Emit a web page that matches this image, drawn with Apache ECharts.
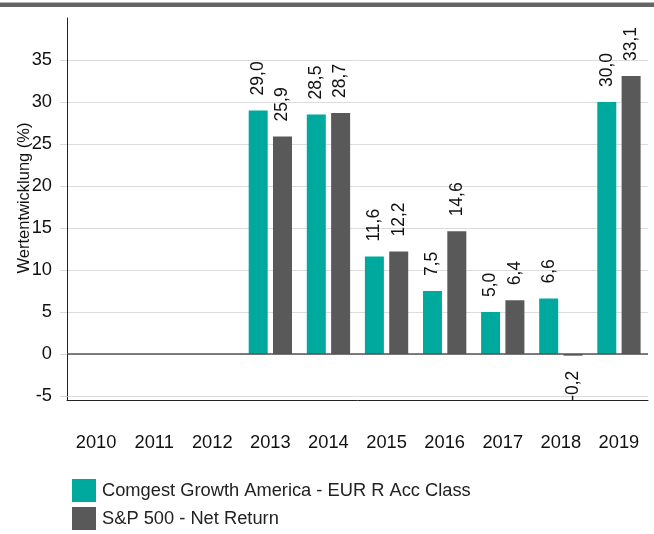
<!DOCTYPE html>
<html>
<head>
<meta charset="utf-8">
<script src="https://cdn.jsdelivr.net/npm/echarts@6/dist/echarts.min.js"></script>
<style>
  html, body { margin: 0; padding: 0; background: #fff; }
  #chart { width: 654px; height: 534px; }
</style>
</head>
<body>
<div id="chart"></div>
<script>
// years on the x axis
const years = ['2010', '2011', '2012', '2013', '2014', '2015', '2016', '2017', '2018', '2019'];
// yearly performance in %
const fundValues = [null, null, null, 29.0, 28.5, 11.6, 7.5, 5.0, 6.6, 30.0];
const indexValues = [null, null, null, 25.9, 28.7, 12.2, 14.6, 6.4, -0.2, 33.1];
const seriesNames = ['Comgest Growth America - EUR R Acc Class', 'S&P 500 - Net Return'];
const yAxisName = 'Wertentwicklung (%)';

const myChart = echarts.init(document.getElementById('chart'));

let fmt = function (p) {
  return p.value.toFixed(1).replace('.', ',');
};

// labels sit above positive bars, below negative ones
let toData = function (arr) {
  return arr.map(function (v) {
    if (v !== null && v < 0) {
      return { value: v, label: { position: 'bottom', align: 'right' } };
    }
    return v;
  });
};

let barLabel = {
  show: true,
  position: 'top',
  rotate: 90,
  align: 'left',
  verticalAlign: 'middle',
  distance: 15,
  fontSize: 17.5,
  color: '#111',
  fontFamily: 'Liberation Sans, Arial, sans-serif',
  formatter: fmt
};

let legendBase = {
  left: 72,
  padding: 0,
  itemWidth: 24,
  itemHeight: 23,
  icon: 'rect',
  textStyle: { fontSize: 18.3, color: '#222', padding: [0, 0, 0, 1] }
};

let option = {
  animation: false,
  textStyle: { fontFamily: 'Liberation Sans, Arial, sans-serif' },
  graphic: [
    { type: 'rect', left: 0, top: 2, shape: { width: 654, height: 1 }, style: { fill: '#b5b5b5' } },
    { type: 'rect', left: 0, top: 3, shape: { width: 654, height: 4 }, style: { fill: '#656565' } },
    // y axis line continues down to the offset x axis
    { type: 'rect', left: 67, top: 396, shape: { width: 1, height: 4 }, style: { fill: '#222' } }
  ],
  grid: { left: 67, right: 6, top: 18, bottom: 138, containLabel: false, outerBoundsMode: 'none' },
  legend: [
    Object.assign({ top: 479, data: [seriesNames[0]] }, legendBase),
    Object.assign({ top: 507, data: [seriesNames[1]] }, legendBase)
  ],
  xAxis: {
    type: 'category',
    data: years,
    position: 'bottom',
    offset: 4,
    axisLine: { onZero: false, lineStyle: { color: '#222', width: 1 } },
    axisTick: { alignWithLabel: true, length: 6, lineStyle: { color: '#222' } },
    axisLabel: { margin: 34, fontSize: 18.3, color: '#111' }
  },
  yAxis: {
    type: 'value',
    min: -5,
    max: 40,
    interval: 5,
    name: yAxisName,
    nameLocation: 'middle',
    nameGap: 34,
    nameMoveOverlap: false,
    nameTextStyle: { fontSize: 16.5, color: '#111', padding: [0, 0, 0, 18] },
    axisLine: { show: true, lineStyle: { color: '#222', width: 1 } },
    axisTick: { show: true, length: 7, lineStyle: { color: '#d9d9d9' } },
    axisLabel: { margin: 15, fontSize: 18.3, color: '#111', showMaxLabel: false },
    splitLine: { show: true, showMaxLine: false, lineStyle: { color: '#dcdcdc', width: 1 } }
  },
  series: [
    {
      name: seriesNames[0],
      type: 'bar',
      barWidth: 19,
      barGap: '28%',
      itemStyle: { color: '#00a99d' },
      label: barLabel,
      data: toData(fundValues),
      markLine: {
        silent: true,
        symbol: 'none',
        label: { show: false },
        lineStyle: { color: '#555', width: 1.5, type: 'solid' },
        data: [{ yAxis: 0 }]
      }
    },
    {
      name: seriesNames[1],
      type: 'bar',
      barWidth: 19,
      itemStyle: { color: '#595959' },
      label: barLabel,
      data: toData(indexValues)
    }
  ]
};
myChart.setOption(option);
</script>
</body>
</html>
